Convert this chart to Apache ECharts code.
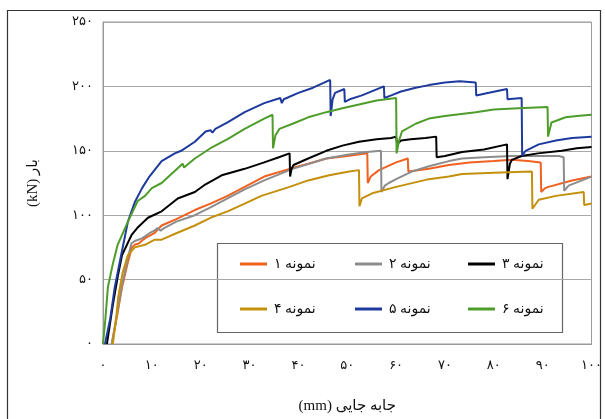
<!DOCTYPE html>
<html>
<head>
<meta charset="utf-8">
<script src="https://cdn.jsdelivr.net/npm/echarts@6/dist/echarts.min.js"></script>
<style>
html,body{margin:0;padding:0;background:#fff;}
#chart{width:605px;height:419px;}
</style>
</head>
<body>
<div id="chart"></div>
<script>
// ---- data ----
const seriesNames = ['نمونه ۱','نمونه ۲','نمونه ۳','نمونه ۴','نمونه ۵','نمونه ۶'];
const xTickValues = [0,10,20,30,40,50,60,70,80,90,100];
const xTickLabels = ['۰','۱۰','۲۰','۳۰','۴۰','۵۰','۶۰','۷۰','۸۰','۹۰','۱۰۰'];
const yTickValues = [0,50,100,150,200,250];
const yTickLabels = ['۰','۵۰','۱۰۰','۱۵۰','۲۰۰','۲۵۰'];
const xAxisTitle = '(mm) جابه جایی';
const yAxisTitle = '(kN) بار';

const s1 = [[1.8,0],[2.8,20],[3.9,44],[5,62],[5.9,75],[6.5,77],[7.3,78],[8.2,81],[9,83],[10.5,86],[12,92],[15,97],[18.8,104],[22,109],[25.5,115],[29,122],[33,130],[38.2,136],[42,140],[45.7,144],[50,146],[54.1,148],[54.2,125],[54.8,130],[56.5,135],[60,141],[62.4,144],[62.5,134],[66.7,136],[70.8,139],[75,141],[80,142],[83.7,143],[87,142],[89.6,141],[89.7,118],[90.5,121],[91.2,122],[96,127],[100,130]];
const s2 = [[1.8,0],[2.8,22],[3.9,46],[5,65],[5.8,78],[6.5,80],[8,82],[9.5,86],[10.5,88],[11.2,90],[11.8,88],[12.5,90],[15,95],[18.8,100],[22,106],[25.5,113],[29,120],[33,127],[38.8,136],[45.7,144],[50,147],[54,149],[56.9,150],[57,118],[57.7,123],[58.5,125],[60,128],[63.3,134],[66.7,138],[70.8,142],[73.5,144],[78,145],[83.7,146],[88,146],[93.3,146],[94.3,145],[94.4,119],[95.3,123],[100,130]];
const s3 = [[0.8,0],[2,30],[3,52],[3.9,69],[5.9,85],[7,90],[9.2,98],[12,103],[15.3,113],[18.8,118],[21,124],[24.3,131],[29,136],[33,141],[36,145],[38.2,148],[38.3,130],[38.6,136],[39,139],[42,144],[45.7,150],[49,154],[52.4,157],[56,159],[59,160],[60,161],[60.2,155],[61,158],[63,159],[66,160],[68.2,161],[68.3,145],[70,146],[73.5,149],[78,151],[82.7,155],[82.8,128],[83.3,140],[83.7,143],[85.7,146],[89,148],[93.9,150],[97,152],[100,153]];
const s4 = [[2,0],[2.7,20],[3.1,36],[4,55],[5.1,69],[6.5,75],[8.6,77],[10.6,81],[12,81],[15,86],[18.8,92],[22,98],[25.5,103],[29,109],[32.4,115],[38.2,122],[42,127],[46.3,131],[50.4,134],[52.4,135],[52.5,107],[53,113],[55.1,117],[60,122],[66.7,128],[70.8,130],[73.5,132],[80,133],[87.8,134],[87.9,105],[89.2,112],[92.7,115],[98.4,118],[98.5,108],[100,109]];
const s5 = [[0.4,0],[1.5,20],[2.4,44],[3.5,65],[4.3,80],[5.1,95],[6.5,110],[8,121],[9.5,130],[12,142],[14.7,148],[16,150],[18.8,157],[21,165],[22,166],[22.4,164],[23,167],[25.5,172],[29,180],[33,187],[36.3,191],[36.6,187],[37,190],[40,195],[43,199],[46.5,205],[46.6,177],[47,190],[47.5,195],[49.4,198],[49.5,188],[50.5,190],[53,193],[57.5,200],[57.6,191],[59,193],[61,196],[64,199],[66.7,201],[70,203],[73,204],[76.3,203],[76.4,193],[79,195],[82.7,198],[82.8,190],[85.7,191],[85.8,146],[86.5,150],[89.2,155],[92.7,158],[96,160],[100,161]];
const s6 = [[0,0],[0.5,20],[1,44],[2,62],[3,77],[5.1,95],[7.1,111],[8.6,115],[10,121],[12,125],[14,132],[16.3,140],[16.6,137],[17.2,139],[18.8,144],[22,152],[25.5,159],[29,167],[33,175],[34.7,178],[34.8,152],[35.3,162],[36.1,167],[38.8,171],[42,176],[45.7,180],[49,183],[52.4,186],[56,189],[60,191],[60.1,148],[60.6,158],[61.2,165],[64,171],[66.7,175],[70,177],[76.3,180],[80,182],[85,183],[91,184],[91.1,161],[91.8,172],[94.7,176],[97,177],[100,178]];
const seriesData = [s1,s2,s3,s4,s5,s6];

// ---- styles ----
const colors = ['#F0601E','#8C8C8C','#000000','#C4900C','#1E3A9C','#4E9C2A'];
const legendPos = [[240,257],[355,257],[468,257],[240,302],[355,302],[468,302]];
const FONT = "'Liberation Serif','DejaVu Sans',serif";

const chart = echarts.init(document.getElementById('chart'), null, {renderer:'canvas'});
const option = {
  animation:false,
  backgroundColor:'#ffffff',
  color: colors,
  grid:{left:103,right:12,top:22,bottom:72,show:true,borderColor:'#9a9a9a',borderWidth:1},
  xAxis:{
    type:'value',min:0,max:100,interval:10,
    name:xAxisTitle,nameLocation:'middle',nameGap:55,
    nameTextStyle:{fontFamily:FONT,fontSize:15,color:'#111'},
    axisLine:{show:true,lineStyle:{color:'#9a9a9a'}},
    axisTick:{show:false},
    splitLine:{show:false},
    axisLabel:{margin:15,fontFamily:FONT,fontSize:13,color:'#111',
      formatter:v=>{const i=xTickValues.indexOf(v);return i>=0?xTickLabels[i]:'';}}
  },
  yAxis:{
    type:'value',min:0,max:250,interval:50,
    name:yAxisTitle,nameLocation:'middle',nameGap:62,nameRotate:90,
    nameTextStyle:{fontFamily:FONT,fontSize:15,color:'#111'},
    axisLine:{show:true,lineStyle:{color:'#9a9a9a'}},
    axisTick:{show:false},
    splitLine:{show:true,lineStyle:{color:'#a8a8a8',width:1}},
    axisLabel:{margin:10,fontFamily:FONT,fontSize:13,color:'#111',
      formatter:v=>{const i=yTickValues.indexOf(v);return i>=0?yTickLabels[i]:'';}}
  },
  legend: seriesNames.map((n,i)=>({
    data:[n],left:legendPos[i][0],top:legendPos[i][1],
    icon:'rect',itemWidth:27,itemHeight:3,itemGap:4,padding:0,
    textStyle:{fontFamily:FONT,fontSize:14,color:'#111',padding:[0,0,0,2]}
  })),
  graphic:[
    {type:'rect',shape:{x:7.5,y:10.5,width:593,height:420},style:{fill:null,stroke:'#333',lineWidth:1.2},silent:true,z:-1},
    {type:'rect',shape:{x:217.5,y:243.5,width:345,height:89},style:{fill:null,stroke:'#666',lineWidth:1.2},silent:true}
  ],
  series: seriesNames.map((n,i)=>({
    name:n,type:'line',data:seriesData[i],showSymbol:false,symbol:'none',
    lineStyle:{width:2,color:colors[i]},itemStyle:{color:colors[i]},z:2+i
  }))
};
chart.setOption(option);
</script>
</body>
</html>
